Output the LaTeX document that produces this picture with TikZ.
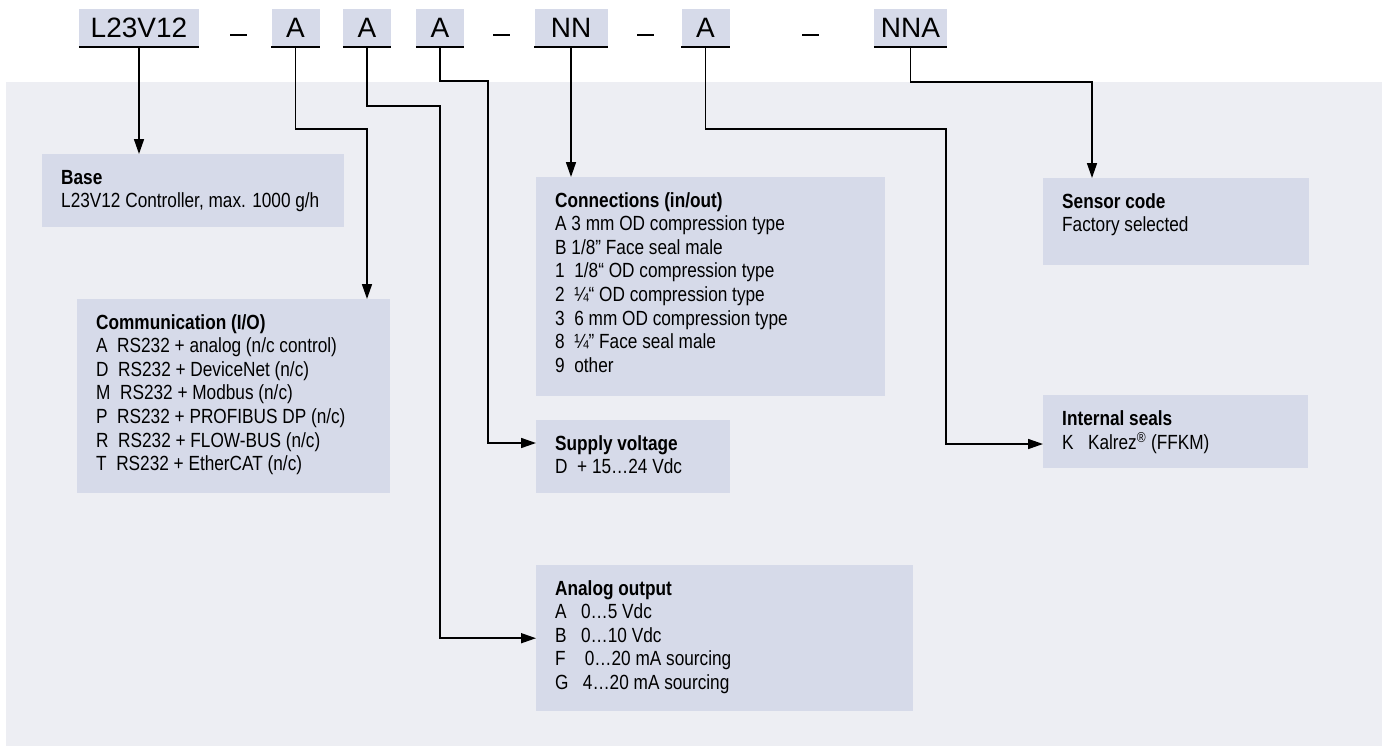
\documentclass[tikz,border=0pt]{standalone}
\usepackage{fontspec}
\setmainfont{Liberation Sans}[FakeStretch=0.84]
\newfontfamily\headfont{Liberation Sans}
\usepackage{tikz}
\usetikzlibrary{arrows.meta,calc}
\definecolor{boxfill}{RGB}{214,218,233}
\definecolor{bgfill}{RGB}{237,238,243}
\tikzstyle{codefield}=[fill=boxfill, inner sep=0pt, minimum height=38pt, font=\headfont\fontsize{28}{30}\selectfont]
\tikzstyle{optfill}=[fill=boxfill, inner sep=0pt]
\tikzstyle{sepbar}=[fill=black, inner sep=0pt, minimum width=17pt, minimum height=2.5pt]
\tikzstyle{arr}=[line width=1.6pt, -{Triangle[length=15pt,width=10pt]}]
\newcommand{\codefield}[4]{
 \node[codefield, minimum width=#3pt] (#1) at (#2,28) {#4};
 \draw[line width=2.5pt] (#1.south west) -- (#1.south east);
}
\newcommand{\optionbox}[6]{
 \node[optfill, minimum width=#3pt, minimum height=#4pt, anchor=north west] (#1) at #2 {};
 \node[anchor=base west, inner sep=0pt] (#1-t) at ($(#1.north west)+(19,30)$)
 {\begin{tabular}[t]{@{}l@{}}\textbf{#5}\\#6\end{tabular}};
}

\begin{document}
\begin{tikzpicture}[x=1pt, y=-1pt, font=\fontsize{20.5}{23.6}\selectfont]
 \useasboundingbox (0,0) rectangle (1386,753);
 \fill[bgfill] (6,82) rectangle (1382,746);
%
 \codefield{hL}{139}{120}{L23V12}
 \codefield{hA1}{295.5}{48}{A}
 \codefield{hA2}{367}{48}{A}
 \codefield{hA3}{440}{48}{A}
 \codefield{hNN}{571}{73}{NN}
 \codefield{hA4}{705.5}{48}{A}
 \codefield{hNNA}{910.5}{73}{NNA}
 \node[sepbar] (s1) at (238.5,35) {};
 \node[sepbar] (s2) at (501.5,35) {};
 \node[sepbar] (s3) at (645,35) {};
 \node[sepbar] (s4) at (810,35) {};
%
 \optionbox{base}{(42,154)}{302}{73}{Base}{L23V12 Controller, max. 1000 g/h}
 \optionbox{comm}{(77,299)}{313}{194}{Communication (I/O)}{%
 A\ \ RS232 + analog (n/c control)\\
 D\ \ RS232 + DeviceNet (n/c)\\
 M\ \ RS232 + Modbus (n/c)\\
 P\ \ RS232 + PROFIBUS DP (n/c)\\
 R\ \ RS232 + FLOW-BUS (n/c)\\
 T\ \ RS232 + EtherCAT (n/c)}
 \optionbox{conn}{(536,177)}{349}{219}{Connections (in/out)}{%
 A 3 mm OD compression type\\
 B 1/8” Face seal male\\
 1\ \ 1/8“ OD compression type\\
 2\ \ ¼“ OD compression type\\
 3\ \ 6 mm OD compression type\\
 8\ \ ¼” Face seal male\\
 9\ \ other}
 \optionbox{supp}{(536,420)}{194}{73}{Supply voltage}{D\ \ + 15…24 Vdc}
 \optionbox{anal}{(536,565)}{377}{146}{Analog output}{%
 A\ \ \ 0…5 Vdc\\
 B\ \ \ 0…10 Vdc\\
 F\ \ \ \ 0…20 mA sourcing\\
 G\ \ \ 4…20 mA sourcing}
 \optionbox{sens}{(1043,178)}{266}{87}{Sensor code}{Factory selected}
 \optionbox{seal}{(1043,395)}{265}{73}{Internal seals}{K\ \ \ Kalrez\textsuperscript{®} (FFKM)}
%
 \coordinate (kA1) at (367,129);
 \coordinate (kA2) at (440,106);
 \coordinate (kA3) at (488,81);
 \coordinate (kA4) at (946,129);
 \coordinate (kN) at (1092,82);
 \coordinate (pSup) at ($(supp.north west)+(0,23)$);
 \coordinate (pSeal) at ($(seal.north west)+(0,49)$);
%
 \draw[arr] (hL.south) -- (hL.south |- base.north);
 \draw[arr] (hA1.south) |- (kA1) -- (kA1 |- comm.north);
 \draw[arr] (hA2.south) |- (kA2) |- (anal.west);
 \draw[arr] (hA3.south) |- (kA3) |- (pSup);
 \draw[arr] (hNN.south) -- (hNN.south |- conn.north);
 \draw[arr] (hA4.south) |- (kA4) |- (pSeal);
 \draw[arr] (hNNA.south) |- (kN) -- (kN |- sens.north);
\end{tikzpicture}
\end{document}
